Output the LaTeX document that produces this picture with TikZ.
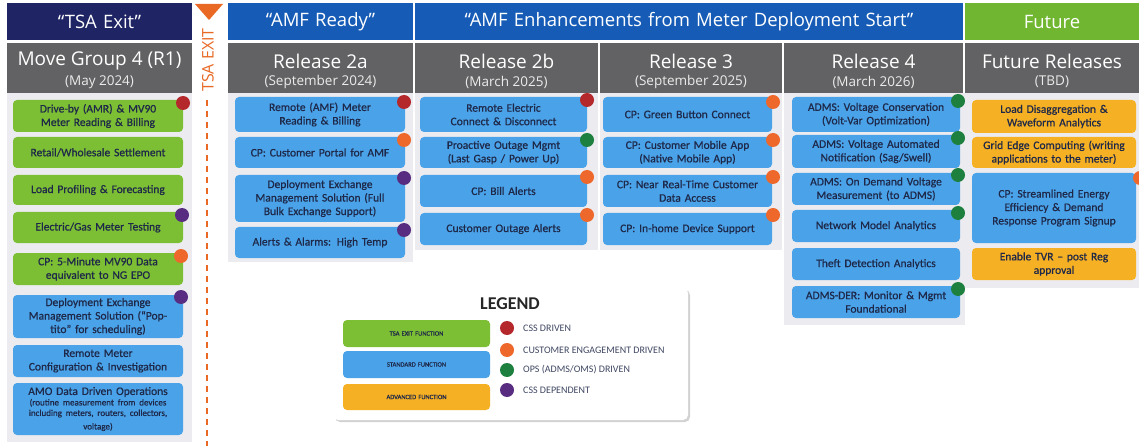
\documentclass[tikz,border=0pt]{standalone}
\usepackage{fontspec}
\setmainfont{Carlito}
\newfontfamily\hdfont{Open Sans}
\newfontfamily\bxfont[FakeBold=0.6]{Carlito}
\usetikzlibrary{shadows}
\definecolor{navy}{RGB}{30,36,100}
\definecolor{hdblue}{RGB}{22,92,182}
\definecolor{hdgreen}{RGB}{112,182,48}
\definecolor{hdgray}{RGB}{98,98,100}
\definecolor{panelbg}{RGB}{236,236,240}
\definecolor{bxgreen}{RGB}{124,190,52}
\definecolor{bxblue}{RGB}{74,162,232}
\definecolor{bxorange}{RGB}{246,176,36}
\definecolor{bxtext}{RGB}{30,40,72}
\definecolor{dRed}{RGB}{180,40,44}
\definecolor{dOrange}{RGB}{238,104,44}
\definecolor{dGreen}{RGB}{30,128,62}
\definecolor{dPurple}{RGB}{88,44,128}
\definecolor{tsaorange}{RGB}{232,104,36}
\newcommand\rbox[7]{%
  \pgfmathsetmacro\rbw{#5-#3}\pgfmathsetmacro\rbh{#6-#4}\pgfmathsetmacro\rtw{#5-#3-8}%
  \node[#2, minimum width=\rbw pt, minimum height=\rbh pt, text width=\rtw pt] (#1) at ({(#3+#5)/2},{(#4+#6)/2}) {#7};}
\begin{document}
\begin{tikzpicture}[x=1pt,y=-1pt,
  hdrbar/.style={inner xsep=4pt, inner ysep=0pt, align=center, text=white, font=\hdfont\fontsize{18.5}{20}\selectfont},
  graybar/.style={fill=hdgray, inner sep=0pt},
  paneln/.style={fill=panelbg, inner sep=0pt},
  fn/.style={rounded corners=4pt, inner xsep=4pt, inner ysep=0pt, align=center, text=bxtext, font=\bxfont\fontsize{11.5}{13.5}\selectfont},
  fnG/.style={fn, fill=bxgreen},
  fnB/.style={fn, fill=bxblue},
  fnO/.style={fn, fill=bxorange},
  dotn/.style={circle, minimum size=14pt, inner sep=0pt},
  ttl/.style={text=white, font=\hdfont\fontsize{19}{20}\selectfont, inner sep=0pt},
  sub/.style={text=white!92!black, font=\hdfont\fontsize{13.5}{14}\selectfont, inner sep=0pt},
  legtxt/.style={anchor=west, text=bxtext!85, font=\fontsize{10}{12}\selectfont, inner sep=0pt},
  swtxt/.style={fn, font=\bxfont\fontsize{6.5}{8}\selectfont}
]
\useasboundingbox (0,0) rectangle (1139,446);
\clip (0,0) rectangle (1139,446);
\fill[white] (0,0) rectangle (1139,446);

% ---- top header row
\rbox{hTSA}{hdrbar, fill=navy}{7}{3}{192}{40}{“TSA Exit”}
\rbox{hAMF}{hdrbar, fill=hdblue}{228}{3}{413}{40}{“AMF Ready”}
\rbox{hENH}{hdrbar, fill=hdblue}{415}{3}{963}{40}{“AMF Enhancements from Meter Deployment Start”}
\rbox{hFUT}{hdrbar, fill=hdgreen}{965}{3}{1139}{40}{Future}

% ---- gray release row
\rbox{g1}{graybar}{7}{43}{192}{93}{}
\rbox{g2}{graybar}{228}{43}{413}{93}{}
\rbox{g3}{graybar}{415}{43}{598}{93}{}
\rbox{g4}{graybar}{600}{43}{782}{93}{}
\rbox{g5}{graybar}{784}{43}{963}{93}{}
\rbox{g6}{graybar}{965}{43}{1139}{93}{}
\node[ttl] (t1) at (99.5,61) {Move Group 4 (R1)};
\node[sub] (s1) at (99.5,82) {(May 2024)};
\node[ttl] (t2) at (320.5,61) {Release 2a};
\node[sub] (s2) at (320.5,82) {(September 2024)};
\node[ttl] (t3) at (506.5,61) {Release 2b};
\node[sub] (s3) at (506.5,82) {(March 2025)};
\node[ttl] (t4) at (691,61) {Release 3};
\node[sub] (s4) at (691,82) {(September 2025)};
\node[ttl] (t5) at (873.5,61) {Release 4};
\node[sub] (s5) at (873.5,82) {(March 2026)};
\node[ttl] (t6) at (1052,61) {Future Releases};
\node[sub] (s6) at (1052,82) {(TBD)};

% ---- TSA exit marker
\fill[tsaorange] (195,4) -- (223,4) -- (209,20) -- cycle;
\node[rotate=90, text=tsaorange, font=\hdfont\fontsize{16}{18}\selectfont, inner sep=0pt] (tsa) at (208,60) {TSA EXIT};
\coordinate (dashA) at (207,100);
\coordinate (dashB) at (207,446);
\draw[tsaorange, line width=1.6pt, dash pattern=on 6pt off 5pt] (dashA) -- (dashB);

% ---- column panels
\rbox{p1}{paneln}{7}{93}{192}{442}{}
\rbox{p2}{paneln}{228}{93}{413}{262}{}
\rbox{p3}{paneln}{415}{93}{598}{250}{}
\rbox{p4}{paneln}{600}{93}{782}{250}{}
\rbox{p5}{paneln}{784}{93}{965}{325}{}
\rbox{p6}{paneln}{965}{93}{1139}{288}{}

% ---- column 1
\rbox{a1}{fnG}{13}{100}{183}{132}{Drive-by (AMR) \& MV90\\Meter Reading \& Billing}
\rbox{a2}{fnG}{13}{137}{183}{168}{Retail/Wholesale Settlement}
\rbox{a3}{fnG}{13}{175}{183}{205}{Load Profiling \& Forecasting}
\rbox{a4}{fnG}{13}{212}{183}{243}{Electric/Gas Meter Testing}
\rbox{a5}{fnG}{13}{253}{183}{285}{CP: 5-Minute MV90 Data\\equivalent to NG EPO}
\rbox{a6}{fnB}{13}{295}{183}{338}{Deployment Exchange\\Management Solution (“Pop-\\tito” for scheduling)}
\rbox{a7}{fnB}{13}{345}{183}{377}{Remote Meter\\Configuration \& Investigation}
\rbox{a8}{fnB}{13}{383}{183}{435}{AMO Data Driven Operations\\{\fontsize{9}{10.5}\selectfont (routine measurement from devices\\including meters, routers, collectors,\\voltage)}}
\node[dotn, fill=dRed] (a1d) at (183,103) {};
\node[dotn, fill=dPurple] (a4d) at (182,215) {};
\node[dotn, fill=dOrange] (a5d) at (181,256) {};
\node[dotn, fill=dPurple] (a6d) at (181,297) {};

% ---- column 2a
\rbox{b1}{fnB}{235}{97}{405}{132}{Remote (AMF) Meter\\Reading \& Billing}
\rbox{b2}{fnB}{235}{137}{405}{168}{CP: Customer Portal for AMF}
\rbox{b3}{fnB}{235}{175}{405}{222}{Deployment Exchange\\Management Solution (Full\\Bulk Exchange Support)}
\rbox{b4}{fnB}{235}{227}{405}{258}{Alerts \& Alarms: High Temp}
\node[dotn, fill=dRed] (b1d) at (404,102) {};
\node[dotn, fill=dOrange] (b2d) at (404,140) {};
\node[dotn, fill=dPurple] (b3d) at (404,178) {};
\node[dotn, fill=dPurple] (b4d) at (404,230) {};

% ---- column 2b
\rbox{c1}{fnB}{420}{97}{587}{132}{Remote Electric\\Connect \& Disconnect}
\rbox{c2}{fnB}{420}{137}{587}{168}{Proactive Outage Mgmt\\(Last Gasp / Power Up)}
\rbox{c3}{fnB}{420}{175}{587}{207}{CP: Bill Alerts}
\rbox{c4}{fnB}{420}{213}{587}{245}{Customer Outage Alerts}
\node[dotn, fill=dRed] (c1d) at (587,100) {};
\node[dotn, fill=dGreen] (c2d) at (587,140) {};
\node[dotn, fill=dOrange] (c3d) at (587,177) {};
\node[dotn, fill=dOrange] (c4d) at (587,215) {};

% ---- column 3
\rbox{e1}{fnB}{603}{97}{772}{132}{CP: Green Button Connect}
\rbox{e2}{fnB}{603}{137}{772}{168}{CP: Customer Mobile App\\(Native Mobile App)}
\rbox{e3}{fnB}{603}{175}{772}{207}{CP: Near Real-Time Customer\\Data Access}
\rbox{e4}{fnB}{603}{213}{772}{245}{CP: In-home Device Support}
\node[dotn, fill=dOrange] (e1d) at (773,102) {};
\node[dotn, fill=dOrange] (e2d) at (773,140) {};
\node[dotn, fill=dOrange] (e3d) at (773,177) {};
\node[dotn, fill=dOrange] (e4d) at (773,215) {};

% ---- column 4
\rbox{f1}{fnB}{792}{97}{960}{132}{ADMS: Voltage Conservation\\(Volt-Var Optimization)}
\rbox{f2}{fnB}{792}{135}{960}{168}{ADMS: Voltage Automated\\Notification (Sag/Swell)}
\rbox{f3}{fnB}{792}{173}{960}{205}{ADMS: On Demand Voltage\\Measurement (to ADMS)}
\rbox{f4}{fnB}{792}{210}{960}{242}{Network Model Analytics}
\rbox{f5}{fnB}{792}{248}{960}{280}{Theft Detection Analytics}
\rbox{f6}{fnB}{792}{286}{960}{318}{ADMS-DER: Monitor \& Mgmt\\Foundational}
\node[dotn, fill=dGreen] (f1d) at (958,101) {};
\node[dotn, fill=dGreen] (f2d) at (958,138) {};
\node[dotn, fill=dGreen] (f3d) at (958,175) {};
\node[dotn, fill=dGreen] (f4d) at (958,213) {};
\node[dotn, fill=dGreen] (f6d) at (958,289) {};

% ---- future column
\rbox{h1}{fnO}{972}{100}{1136}{133}{Load Disaggregation \&\\Waveform Analytics}
\rbox{h2}{fnO}{972}{137}{1136}{168}{Grid Edge Computing (writing\\applications to the meter)}
\rbox{h3}{fnB}{972}{173}{1136}{243}{CP: Streamlined Energy\\Efficiency \& Demand\\Response Program Signup}
\rbox{h4}{fnO}{972}{248}{1136}{280}{Enable TVR – post Reg\\approval}
\node[dotn, fill=dOrange] (h3d) at (1140,178) {};

% ---- legend
\rbox{leg}{fill=white, rounded corners=5pt, drop shadow={shadow xshift=2pt, shadow yshift=-2pt, opacity=0.35}}{333}{288}{688}{420}{}
\node[font=\fontsize{18}{20}\selectfont\bfseries, text=black!85, inner sep=0pt] (legt) at (510,304) {LEGEND};
\rbox{sw1}{fnG, swtxt}{343}{320}{490}{347}{TSA EXIT FUNCTION}
\rbox{sw2}{fnB, swtxt}{343}{351}{490}{378}{STANDARD FUNCTION}
\rbox{sw3}{fnO, swtxt}{343}{384}{490}{410}{ADVANCED FUNCTION}
\node[dotn, fill=dRed] (l1) at (507,328) {};
\node[dotn, fill=dOrange] (l2) at (507,350) {};
\node[dotn, fill=dGreen] (l3) at (507,370) {};
\node[dotn, fill=dPurple] (l4) at (507,390) {};
\node[legtxt] (l1t) at (523,328) {CSS DRIVEN};
\node[legtxt] (l2t) at (523,350) {CUSTOMER ENGAGEMENT DRIVEN};
\node[legtxt] (l3t) at (523,370) {OPS (ADMS/OMS) DRIVEN};
\node[legtxt] (l4t) at (523,390) {CSS DEPENDENT};
\end{tikzpicture}
\end{document}
